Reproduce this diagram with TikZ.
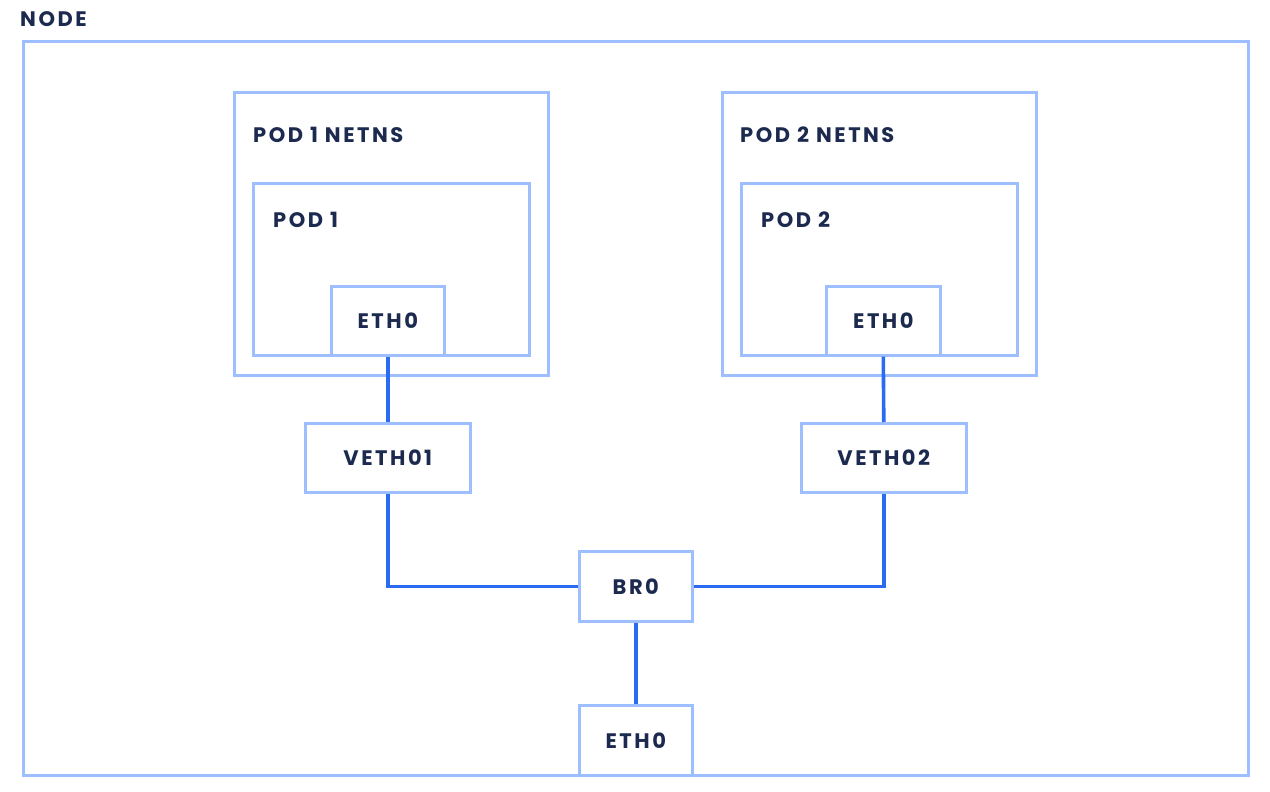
\documentclass[tikz,border=0pt]{standalone}
\usepackage{fontspec}
\setmainfont{Poppins}[LetterSpace=12,Numbers=Monospaced]
\definecolor{boxc}{HTML}{9DBEFF}
\definecolor{linec}{HTML}{2A6BF2}
\definecolor{txt}{HTML}{1B2A4E}
\begin{document}
\begin{tikzpicture}[x=1pt,y=-1pt,
  box/.style={draw=boxc, line width=2.6pt, fill=white, inner sep=0pt, anchor=north west, text=txt, font=\fontsize{21}{24}\selectfont\bfseries},
  lbl/.style={anchor=west, inner sep=0pt, text=txt, font=\fontsize{21}{24}\selectfont\bfseries},
  conn/.style={draw=linec, line width=3.6pt}]
\useasboundingbox (0,0) rectangle (1270,792);
\node[lbl] (nodelbl) at (20,19) {NODE};
\node[box, minimum width=1225pt, minimum height=734pt] (node) at (22,40) {};
% pod 1
\node[box, minimum width=314pt, minimum height=283pt] (ns1) at (233,91) {};
\node[lbl] (ns1l) at (253,135) {POD 1 NETNS};
\node[box, minimum width=276pt, minimum height=172pt] (pod1) at (252,182) {};
\node[lbl] (pod1l) at (273,220) {POD 1};
\node[box, minimum width=113pt, minimum height=69pt] (eth1) at (330,285) {\raisebox{-1.5pt}{ETH0}};
% pod 2
\node[box, minimum width=314pt, minimum height=283pt] (ns2) at (721,91) {};
\node[lbl] (ns2l) at (740,135) {POD 2 NETNS};
\node[box, minimum width=276pt, minimum height=172pt] (pod2) at (740,182) {};
\node[lbl] (pod2l) at (761,220) {POD 2};
\node[box, minimum width=114pt, minimum height=69pt] (eth2) at (825,285) {\raisebox{-1.5pt}{ETH0}};
% veths
\node[box, minimum width=165pt, minimum height=69pt] (veth1) at (304,422) {\raisebox{-1.5pt}{VETH01}};
\node[box, minimum width=165pt, minimum height=69pt] (veth2) at (800,422) {\raisebox{-1.5pt}{VETH02}};
\node[box, minimum width=113pt, minimum height=70pt] (br0) at (578,550) {\raisebox{-1.5pt}{BR0}};
\node[box, minimum width=113pt, minimum height=70pt] (eth) at (578,704) {\raisebox{-1.5pt}{ETH0}};
% connectors
\draw[conn] (eth1.south) -- (veth1.north);
\draw[conn] (eth2.south) -- (veth2.north);
\draw[conn] (veth1.south) |- (br0.west);
\draw[conn] (veth2.south) |- (br0.east);
\draw[conn] (br0.south) -- (eth.north);
\end{tikzpicture}
\end{document}
